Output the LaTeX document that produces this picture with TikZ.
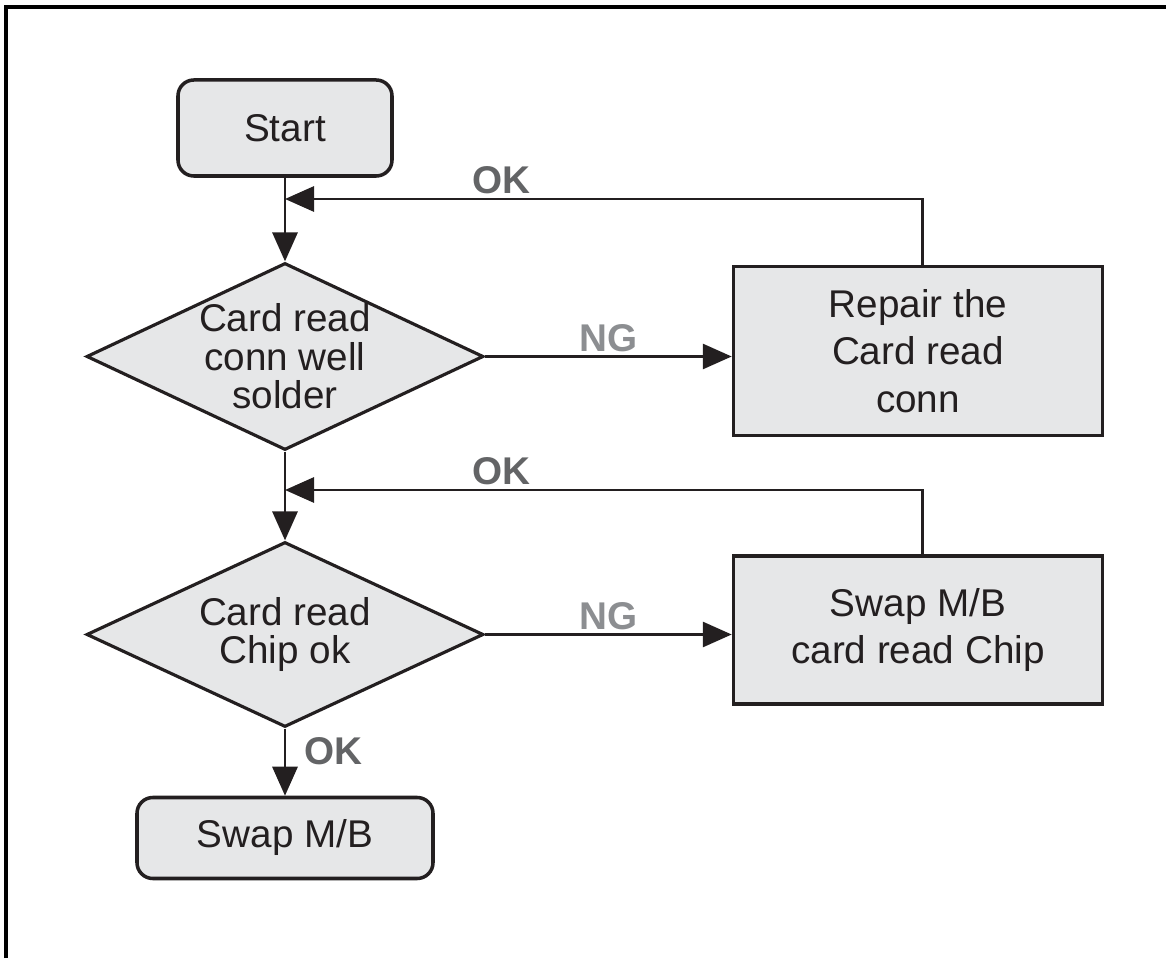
\documentclass[tikz,border=0pt]{standalone}
\usepackage{fontspec}
\setmainfont{Liberation Sans}
\definecolor{boxfill}{RGB}{230,231,232}
\definecolor{lineblk}{RGB}{35,31,32}
\definecolor{okgray}{RGB}{99,100,102}
\definecolor{nggray}{RGB}{140,142,145}
\usetikzlibrary{arrows.meta,positioning,shapes.geometric}

\tikzset{
  flowbox/.style={draw=lineblk, fill=boxfill, line width=2pt, align=center, font=\fontsize{22}{27}\selectfont, text=lineblk, inner sep=0pt},
  roundbox/.style={flowbox, rounded corners=9pt},
  decision/.style={diamond, draw=lineblk, fill=boxfill, line width=1.8pt, aspect=2.12, inner sep=0pt, align=center, font=\fontsize{22}{22}\selectfont, text=lineblk},
  flowarrow/.style={-{Triangle[length=0.58cm,width=0.5cm]}, draw=lineblk, line width=1.7pt},
  oklabel/.style={font=\bfseries\fontsize{22}{22}\selectfont, text=okgray, inner sep=2pt},
  nglabel/.style={font=\bfseries\fontsize{22}{22}\selectfont, text=nggray, inner sep=2pt},
}

\begin{document}
\begin{tikzpicture}
  \useasboundingbox (0,0) rectangle (23.32,19.16);

  % Frame (top and left edges only)
  \draw[line width=2.3pt, black] (0.12,0) -- (0.12,19.02) -- (23.32,19.02);

  % Start
  \node[roundbox, minimum width=4.28cm, minimum height=1.92cm] (start) at (5.70,16.60) {Start};

  % Card read conn check
  \node[decision, minimum width=7.94cm, minimum height=3.74cm] (d1) at (5.70,12.03) {Card read\\conn well\\solder};
  \node[flowbox, minimum width=7.38cm, minimum height=3.38cm] (repair) at (18.36,12.14) {Repair the\\Card read\\conn};

  % Card read chip check
  \node[decision, minimum width=7.94cm, minimum height=3.70cm] (d2) at (5.70,6.47) {Card read\\Chip ok};
  \node[flowbox, minimum width=7.38cm, minimum height=2.96cm] (swapchip) at (18.36,6.56) {Swap M/B\\card read Chip};

  % End
  \node[roundbox, minimum width=5.92cm, minimum height=1.62cm] (swapmb) at (5.70,2.40) {Swap M/B};

  % Feedback join points on the main line
  \coordinate (okin1) at (5.70,15.18);
  \coordinate (okin2) at (5.70,9.36);

  % Connectors
  \draw[flowarrow] (start) -- (d1);
  \draw[flowarrow] (d1.east) -- node[nglabel, above] {NG} (d1.east -| repair.west);
  \draw[flowarrow] ([xshift=0.09cm]repair.north) |- node[oklabel, pos=0.83, above] {OK} (okin1);

  \draw[flowarrow] (d1) -- (d2);
  \draw[flowarrow] (d2.east) -- node[nglabel, above] {NG} (d2.east -| swapchip.west);
  \draw[flowarrow] ([xshift=0.09cm]swapchip.north) |- node[oklabel, pos=0.83, above] {OK} (okin2);

  \draw[flowarrow] (d2) -- node[oklabel, pos=0.34, right=0.29cm] {OK} (swapmb);
\end{tikzpicture}
\end{document}
